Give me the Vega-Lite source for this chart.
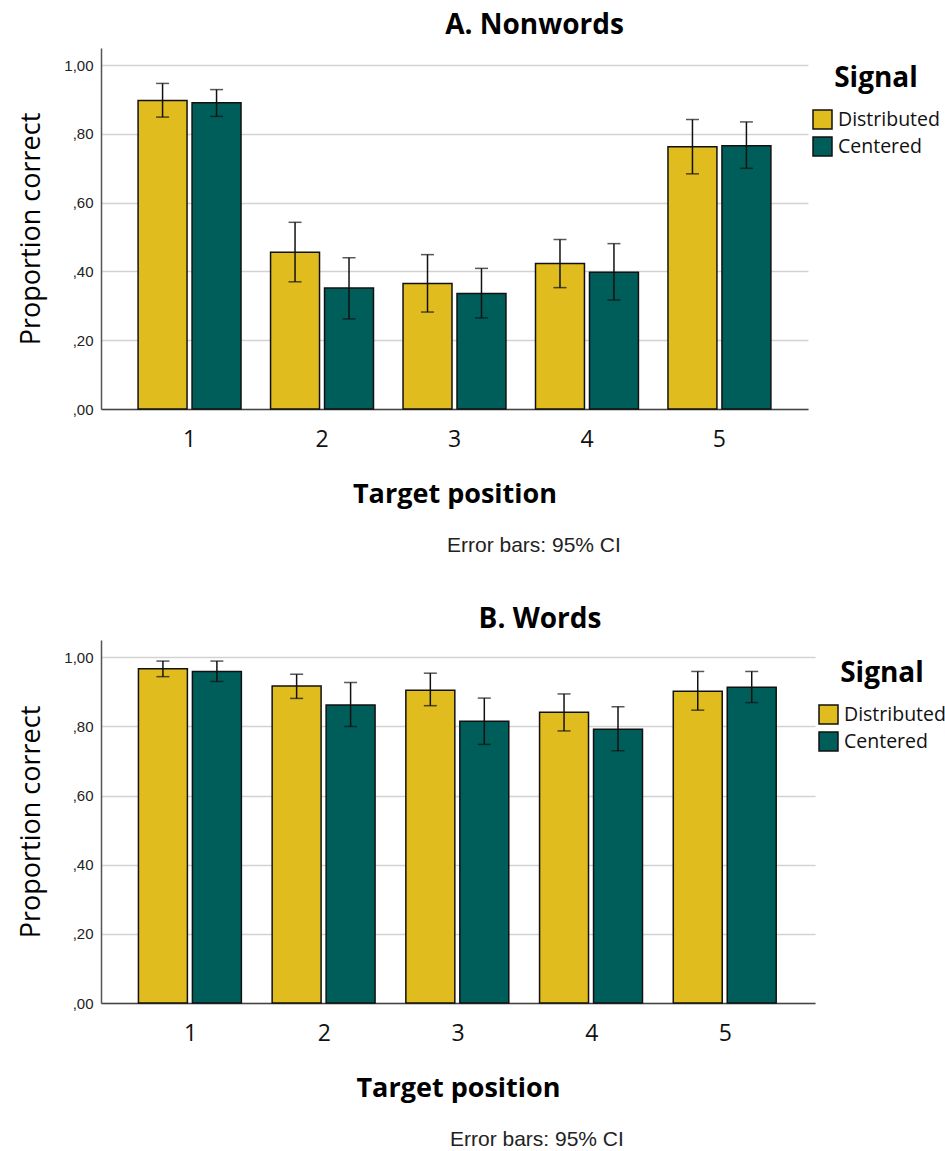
{
  "$schema": "https://vega.github.io/schema/vega-lite/v6.json",
  "padding": {"left": 17, "top": 12, "right": 0, "bottom": 0},
  "background": "white",
  "datasets": {
    "d": [
      {"panel": "A", "pos": "1", "signal": "Distributed", "mean": 0.897, "lo": 0.849, "hi": 0.947},
      {"panel": "A", "pos": "1", "signal": "Centered", "mean": 0.891, "lo": 0.851, "hi": 0.929},
      {"panel": "A", "pos": "2", "signal": "Distributed", "mean": 0.456, "lo": 0.370, "hi": 0.543},
      {"panel": "A", "pos": "2", "signal": "Centered", "mean": 0.352, "lo": 0.262, "hi": 0.440},
      {"panel": "A", "pos": "3", "signal": "Distributed", "mean": 0.365, "lo": 0.282, "hi": 0.449},
      {"panel": "A", "pos": "3", "signal": "Centered", "mean": 0.336, "lo": 0.265, "hi": 0.409},
      {"panel": "A", "pos": "4", "signal": "Distributed", "mean": 0.423, "lo": 0.353, "hi": 0.493},
      {"panel": "A", "pos": "4", "signal": "Centered", "mean": 0.398, "lo": 0.317, "hi": 0.481},
      {"panel": "A", "pos": "5", "signal": "Distributed", "mean": 0.763, "lo": 0.684, "hi": 0.842},
      {"panel": "A", "pos": "5", "signal": "Centered", "mean": 0.766, "lo": 0.700, "hi": 0.835},
      {"panel": "B", "pos": "1", "signal": "Distributed", "mean": 0.967, "lo": 0.944, "hi": 0.989},
      {"panel": "B", "pos": "1", "signal": "Centered", "mean": 0.959, "lo": 0.930, "hi": 0.989},
      {"panel": "B", "pos": "2", "signal": "Distributed", "mean": 0.917, "lo": 0.881, "hi": 0.951},
      {"panel": "B", "pos": "2", "signal": "Centered", "mean": 0.862, "lo": 0.800, "hi": 0.927},
      {"panel": "B", "pos": "3", "signal": "Distributed", "mean": 0.905, "lo": 0.860, "hi": 0.954},
      {"panel": "B", "pos": "3", "signal": "Centered", "mean": 0.815, "lo": 0.748, "hi": 0.882},
      {"panel": "B", "pos": "4", "signal": "Distributed", "mean": 0.841, "lo": 0.787, "hi": 0.894},
      {"panel": "B", "pos": "4", "signal": "Centered", "mean": 0.792, "lo": 0.730, "hi": 0.857},
      {"panel": "B", "pos": "5", "signal": "Distributed", "mean": 0.902, "lo": 0.847, "hi": 0.959},
      {"panel": "B", "pos": "5", "signal": "Centered", "mean": 0.913, "lo": 0.869, "hi": 0.959}
    ]
  },
  "spacing": 50,
  "resolve": {"scale": {"color": "independent"}, "legend": {"color": "independent"}},
  "vconcat": [
    {
      "title": {"text": "Error bars: 95% CI", "orient": "bottom", "anchor": "middle", "font": "Liberation Sans", "fontSize": 21, "fontWeight": "normal", "color": "#222", "offset": 28, "dx": 55},
      "vconcat": [
        {
          "width": 707,
          "height": 361,
          "data": {"name": "d"},
          "transform": [{"filter": "datum.panel === 'A'"}],
          "title": {"text": "A. Nonwords", "anchor": "middle", "frame": "group", "font": "Open Sans", "fontSize": 28, "fontWeight": "bold", "color": "#000", "offset": 8, "dx": 80},
          "encoding": {
            "x": {"field": "pos", "type": "nominal", "scale": {"paddingInner": 0.223, "paddingOuter": 0.28},
              "axis": {"title": "Target position", "labelAngle": 0}},
            "xOffset": {"field": "signal", "type": "nominal", "sort": ["Distributed", "Centered"], "scale": {"paddingInner": 0.093, "paddingOuter": 0}}
          },
          "layer": [
            {
              "mark": {"type": "bar", "stroke": "#111", "strokeWidth": 1.5},
              "encoding": {
                "y": {"field": "mean", "type": "quantitative", "scale": {"domain": [0, 1.05], "nice": false},
                  "axis": {"title": "Proportion correct", "values": [0, 0.2, 0.4, 0.6, 0.8, 1.0],
                    "labelExpr": "datum.value >= 1 ? replace(format(datum.value, '.2f'), '.', ',') : replace(format(datum.value, '.2f'), '0.', ',')"}},
                "color": {"field": "signal", "type": "nominal", "sort": ["Distributed", "Centered"],
                  "scale": {"domain": ["Distributed", "Centered"], "range": ["#E0BC1F", "#005E5A"]},
                  "legend": {"title": "Signal", "orient": "none", "legendX": 711, "legendY": 17}}
              }
            },
            {
              "mark": {"type": "rule", "color": "#111", "strokeWidth": 1.5},
              "encoding": {"y": {"field": "lo", "type": "quantitative"}, "y2": {"field": "hi"}}
            },
            {
              "mark": {"type": "tick", "color": "#111", "thickness": 1.5, "size": 13},
              "encoding": {"y": {"field": "hi", "type": "quantitative"}}
            },
            {
              "mark": {"type": "tick", "color": "#111", "thickness": 1.5, "size": 13},
              "encoding": {"y": {"field": "lo", "type": "quantitative"}}
            }
          ]
        }
      ]
    },
    {
      "title": {"text": "Error bars: 95% CI", "orient": "bottom", "anchor": "middle", "font": "Liberation Sans", "fontSize": 21, "fontWeight": "normal", "color": "#222", "offset": 28, "dx": 55},
      "vconcat": [
        {
          "width": 714,
          "height": 363,
          "data": {"name": "d"},
          "transform": [{"filter": "datum.panel === 'B'"}],
          "title": {"text": "B. Words", "anchor": "middle", "frame": "group", "font": "Open Sans", "fontSize": 28, "fontWeight": "bold", "color": "#000", "offset": 6, "dx": 82},
          "encoding": {
            "x": {"field": "pos", "type": "nominal", "scale": {"paddingInner": 0.22, "paddingOuter": 0.28},
              "axis": {"title": "Target position", "labelAngle": 0}},
            "xOffset": {"field": "signal", "type": "nominal", "sort": ["Distributed", "Centered"], "scale": {"paddingInner": 0.093, "paddingOuter": 0}}
          },
          "layer": [
            {
              "mark": {"type": "bar", "stroke": "#111", "strokeWidth": 1.5},
              "encoding": {
                "y": {"field": "mean", "type": "quantitative", "scale": {"domain": [0, 1.05], "nice": false},
                  "axis": {"title": "Proportion correct", "values": [0, 0.2, 0.4, 0.6, 0.8, 1.0],
                    "labelExpr": "datum.value >= 1 ? replace(format(datum.value, '.2f'), '.', ',') : replace(format(datum.value, '.2f'), '0.', ',')"}},
                "color": {"field": "signal", "type": "nominal", "sort": ["Distributed", "Centered"],
                  "scale": {"domain": ["Distributed", "Centered"], "range": ["#E0BC1F", "#005E5A"]},
                  "legend": {"title": "Signal", "orient": "none", "legendX": 717, "legendY": 20}}
              }
            },
            {
              "mark": {"type": "rule", "color": "#111", "strokeWidth": 1.5},
              "encoding": {"y": {"field": "lo", "type": "quantitative"}, "y2": {"field": "hi"}}
            },
            {
              "mark": {"type": "tick", "color": "#111", "thickness": 1.5, "size": 13},
              "encoding": {"y": {"field": "hi", "type": "quantitative"}}
            },
            {
              "mark": {"type": "tick", "color": "#111", "thickness": 1.5, "size": 13},
              "encoding": {"y": {"field": "lo", "type": "quantitative"}}
            }
          ]
        }
      ]
    }
  ],
  "config": {
    "view": {"stroke": null},
    "axisX": {"domainColor": "#444", "domainWidth": 1.5, "ticks": false, "grid": false,
      "labelFont": "Open Sans", "labelFontSize": 23, "labelColor": "#111", "labelPadding": 19,
      "titleFont": "Open Sans", "titleFontSize": 27, "titleFontWeight": "bold", "titleColor": "#000", "titlePadding": 30},
    "axisY": {"domainColor": "#555", "domainWidth": 1.5, "ticks": false, "grid": true, "gridColor": "#d2d2d2", "gridWidth": 1.5,
      "labelFont": "Liberation Sans", "labelFontSize": 15, "labelColor": "#222", "labelPadding": 8,
      "titleFont": "Open Sans", "titleFontSize": 27, "titleFontWeight": "normal", "titleColor": "#000", "titlePadding": 18},
    "legend": {"titleFont": "Open Sans", "titleFontSize": 28, "titleFontWeight": "bold", "titleColor": "#000", "titleAnchor": "middle", "titlePadding": 16,
      "labelFont": "Open Sans", "labelFontSize": 19.5, "labelColor": "#111", "labelOffset": 5,
      "symbolType": "square", "symbolSize": 361, "symbolStrokeColor": "#111", "symbolStrokeWidth": 1.5, "symbolOpacity": 1, "rowPadding": 2}
  }
}
